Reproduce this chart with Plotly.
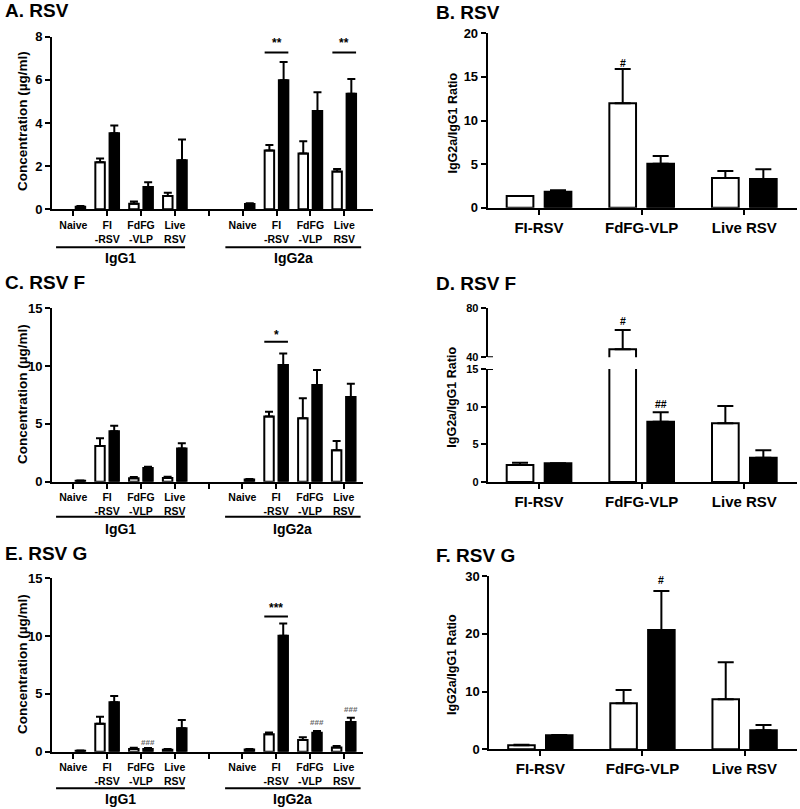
import plotly.graph_objects as go

W, H = 800, 809
FONT = "Liberation Sans, Arial, sans-serif"

# ---------------- data ----------------
iso_groups = ["Naive", "FI<br>-RSV", "FdFG<br>-VLP", "Live<br>RSV"]
ratio_groups = ["FI-RSV", "FdFG-VLP", "Live RSV"]

# Panel A: RSV concentrations (IgG1 groups then IgG2a groups)
a_white = [None, 2.18, 0.26, 0.62, None, 2.73, 2.59, 1.75]
a_white_err = [0, 0.18, 0.10, 0.15, 0, 0.25, 0.56, 0.12]
a_black = [0.12, 3.52, 1.03, 2.27, 0.25, 5.98, 4.56, 5.36]
a_black_err = [0.03, 0.36, 0.22, 0.97, 0.03, 0.85, 0.86, 0.68]

# Panel B: RSV ratio
b_white = [1.34, 11.97, 3.40]
b_white_err = [0.0, 3.93, 0.80]
b_black = [1.84, 5.05, 3.29]
b_black_err = [0.16, 0.88, 1.11]

# Panel C: RSV F concentrations
c_white = [None, 3.09, 0.29, 0.32, None, 5.65, 5.48, 2.71]
c_white_err = [0, 0.66, 0.11, 0.11, 0, 0.41, 1.73, 0.81]
c_black = [0.09, 4.36, 1.18, 2.88, 0.20, 10.10, 8.36, 7.33]
c_black_err = [0.02, 0.49, 0.12, 0.44, 0.03, 1.00, 1.30, 1.15]

# Panel D: RSV F ratio
d_white = [2.26, 46.5, 7.80]
d_white_err = [0.31, 15.8, 2.30]
d_black = [2.48, 8.00, 3.23]
d_black_err = [0.02, 1.25, 0.97]

# Panel E: RSV G concentrations
e_white = [None, 2.42, 0.23, 0.17, None, 1.50, 1.01, 0.37]
e_white_err = [0, 0.61, 0.12, 0.06, 0, 0.17, 0.23, 0.12]
e_black = [0.09, 4.27, 0.23, 2.02, 0.20, 10.04, 1.64, 2.57]
e_black_err = [0.02, 0.55, 0.09, 0.72, 0.03, 1.06, 0.15, 0.37]

# Panel F: RSV G ratio
f_white = [0.69, 7.96, 8.65]
f_white_err = [0.11, 2.31, 6.41]
f_black = [2.42, 20.65, 3.29]
f_black_err = [0.06, 6.75, 0.91]

# --------------- helpers ---------------
def px_x(p):
    return p / W

def px_y(p):
    return 1 - p / H

slots = [i if i < 4 else i + 1 for i in range(8)]  # gap slot between IgG1 and IgG2a
iso_tickvals = list(range(9))
iso_ticktext = iso_groups + [""] + iso_groups
ratio_pos = list(range(3))

fig = go.Figure()

def add_pair(xref, yref, xs, w, we, b, be, bw, woff, boff, capw):
    fig.add_trace(go.Bar(
        x=xs, y=w, width=bw, offset=woff, xaxis=xref, yaxis=yref,
        marker=dict(color="white", line=dict(color="black", width=2)),
        error_y=dict(type="data", array=we, arrayminus=[0] * len(we), symmetric=False,
                     color="black", thickness=2, width=capw),
        showlegend=False, hoverinfo="skip"))
    fig.add_trace(go.Bar(
        x=xs, y=b, width=bw, offset=boff, xaxis=xref, yaxis=yref,
        marker=dict(color="black", line=dict(color="black", width=2)),
        error_y=dict(type="data", array=be, arrayminus=[0] * len(be), symmetric=False,
                     color="black", thickness=2, width=capw),
        showlegend=False, hoverinfo="skip"))

# iso panels (A, C, E)
add_pair("x", "y", slots, a_white, a_white_err, a_black, a_black_err, 0.28, -0.35, 0.07, 4)
add_pair("x3", "y3", slots, c_white, c_white_err, c_black, c_black_err, 0.28, -0.35, 0.07, 4)
add_pair("x5", "y6", slots, e_white, e_white_err, e_black, e_black_err, 0.28, -0.35, 0.07, 4)
# ratio panels (B, D lower, D upper, F)
add_pair("x2", "y2", ratio_pos, b_white, b_white_err, b_black, b_black_err, 0.26, -0.315, 0.055, 8)
add_pair("x4", "y4", ratio_pos, d_white, d_white_err, d_black, d_black_err, 0.26, -0.315, 0.055, 8)
add_pair("x4", "y5", ratio_pos, d_white, d_white_err, d_black, d_black_err, 0.26, -0.315, 0.055, 8)
add_pair("x6", "y7", ratio_pos, f_white, f_white_err, f_black, f_black_err, 0.26, -0.315, 0.055, 8)

line_style = dict(showline=True, linecolor="black", linewidth=2, ticks="outside",
                  ticklen=5, tickwidth=2, tickcolor="black", showgrid=False, zeroline=False,
                  automargin=False)

def yax(top_px, bot_px, rng, tickvals, anchor, size=13):
    return dict(domain=[px_y(bot_px), px_y(top_px)], range=rng, tickvals=tickvals,
                anchor=anchor, tickfont=dict(family=FONT, size=size, color="black", weight="bold"),
                **line_style)

def xax_iso(left, right, rng, anchor):
    return dict(domain=[px_x(left), px_x(right)], range=rng, tickvals=iso_tickvals,
                ticktext=iso_ticktext, anchor=anchor, tickangle=0,
                tickfont=dict(family=FONT, size=10.5, color="black", weight="bold"),
                **line_style)

def xax_ratio(left, right, anchor):
    return dict(domain=[px_x(left), px_x(right)], range=[-0.5, 2.51], tickvals=ratio_pos,
                ticktext=ratio_groups, anchor=anchor, tickangle=0,
                tickfont=dict(family=FONT, size=15, color="black", weight="bold"),
                **line_style)

fig.update_layout(
    template="none",
    width=W, height=H, margin=dict(l=0, r=0, t=0, b=0, pad=0, autoexpand=False),
    paper_bgcolor="white", plot_bgcolor="white", barmode="overlay",
    font=dict(family=FONT, color="black"),
    xaxis=xax_iso(52, 373, [-0.63, 8.85], "y"),
    yaxis=yax(36.7, 209.3, [0, 8], [0, 2, 4, 6, 8], "x"),
    xaxis2=xax_ratio(487.7, 796.7, "y2"),
    yaxis2=yax(33.3, 207.7, [0, 20], [0, 5, 10, 15, 20], "x2"),
    xaxis3=xax_iso(52, 363, [-0.63, 8.57], "y3"),
    yaxis3=yax(308.3, 481.7, [0, 15], [0, 5, 10, 15], "x3"),
    xaxis4=xax_ratio(487.7, 796.7, "y4"),
    yaxis4=yax(369.0, 482.0, [0, 15], [0, 5, 10, 15], "x4", 11),
    yaxis5=yax(308.3, 357.3, [40, 80], [40, 80], "x4", 11),
    xaxis5=xax_iso(52, 363, [-0.63, 8.57], "y6"),
    yaxis6=yax(578.3, 751.7, [0, 15], [0, 5, 10, 15], "x5"),
    xaxis6=xax_ratio(489.3, 796.7, "y7"),
    yaxis7=yax(576.0, 749.3, [0, 30], [0, 10, 20, 30], "x6"),
)

ann = []
shapes = []

def text(x, y, s, size, xref="paper", yref="paper", angle=0, xanchor="center", color="black"):
    ann.append(dict(x=x, y=y, xref=xref, yref=yref, text=s, showarrow=False, textangle=angle,
                    xanchor=xanchor, yanchor="middle",
                    font=dict(family=FONT, size=size, color=color, weight="bold")))

# panel titles
text(px_x(3), px_y(11), "A. RSV", 19, xanchor="left")
text(px_x(434), px_y(12), "B. RSV", 19, xanchor="left")
text(px_x(3), px_y(282), "C. RSV F", 19, xanchor="left")
text(px_x(434), px_y(283), "D. RSV F", 19, xanchor="left")
text(px_x(3), px_y(553), "E. RSV G", 19, xanchor="left")
text(px_x(434), px_y(555), "F. RSV G", 19, xanchor="left")

# y-axis titles
for yc in (121, 394, 664):
    text(px_x(22), px_y(yc), "Concentration (µg/ml)", 13.5, angle=-90)
for yc in (122.5, 396.7, 664):
    text(px_x(452), px_y(yc), "IgG2a/IgG1 Ratio", 12.5, angle=-90)

# IgG1 / IgG2a brackets under iso panels
for xr, line_y, lab_y in (("x", -0.22, -0.285), ("x3", -0.202, -0.27), ("x5", -0.211, -0.27)):
    yd = ("y" if xr == "x" else ("y3" if xr == "x3" else "y6")) + " domain"
    for x0, x1, lab in ((-0.51, 3.3, "IgG1"), (4.49, 8.5, "IgG2a")):
        shapes.append(dict(type="line", xref=xr, yref=yd, x0=x0, x1=x1, y0=line_y, y1=line_y,
                           line=dict(color="black", width=2)))
        text((x0 + x1) / 2, lab_y, lab, 14, xref=xr, yref=yd)

# significance bars
def sig(xr, yr, xc, yline, ytext, s):
    shapes.append(dict(type="line", xref=xr, yref=yr, x0=xc - 0.35, x1=xc + 0.35,
                       y0=yline, y1=yline, line=dict(color="black", width=2)))
    text(xc, ytext, s, 12, xref=xr, yref=yr)

sig("x", "y", 6, 7.27, 7.7, "**")
sig("x", "y", 8, 7.27, 7.7, "**")
sig("x3", "y3", 6, 12.1, 12.7, "*")
sig("x5", "y6", 6, 11.7, 12.4, "***")

# hash marks
text(1 - 0.185, 16.6, "#", 10.5, xref="x2", yref="y2")
text(1 - 0.185, 70.0, "#", 10.5, xref="x4", yref="y5")
text(1 + 0.185, 10.4, "##", 10.5, xref="x4", yref="y4")
text(1 + 0.185, 29.3, "#", 10.5, xref="x6", yref="y7")
text(2 + 0.21, 0.8, "###", 8, xref="x5", yref="y6", color="#666666")
text(7 + 0.21, 2.5, "###", 8, xref="x5", yref="y6", color="#666666")
text(8 + 0.21, 3.66, "###", 8, xref="x5", yref="y6", color="#666666")

# axis-break marks on panel D
for yv, yr in ((15, "y4"), (40, "y5")):
    shapes.append(dict(type="line", xref="paper", yref=yr, x0=px_x(487.7), x1=px_x(493),
                       y0=yv, y1=yv, line=dict(color="black", width=2)))

fig.update_layout(annotations=ann, shapes=shapes)
post = (
    "document.documentElement.style.margin='0';"
    "document.body.style.margin='0';"
    "document.body.style.overflow='hidden';"
    "var gd=document.getElementById('{plot_id}');"
    "var p=gd.parentElement;p.style.position='fixed';p.style.left='0px';p.style.top='0px';"
)
fig.write_html("out.html", config={"displayModeBar": False}, post_script=post)
